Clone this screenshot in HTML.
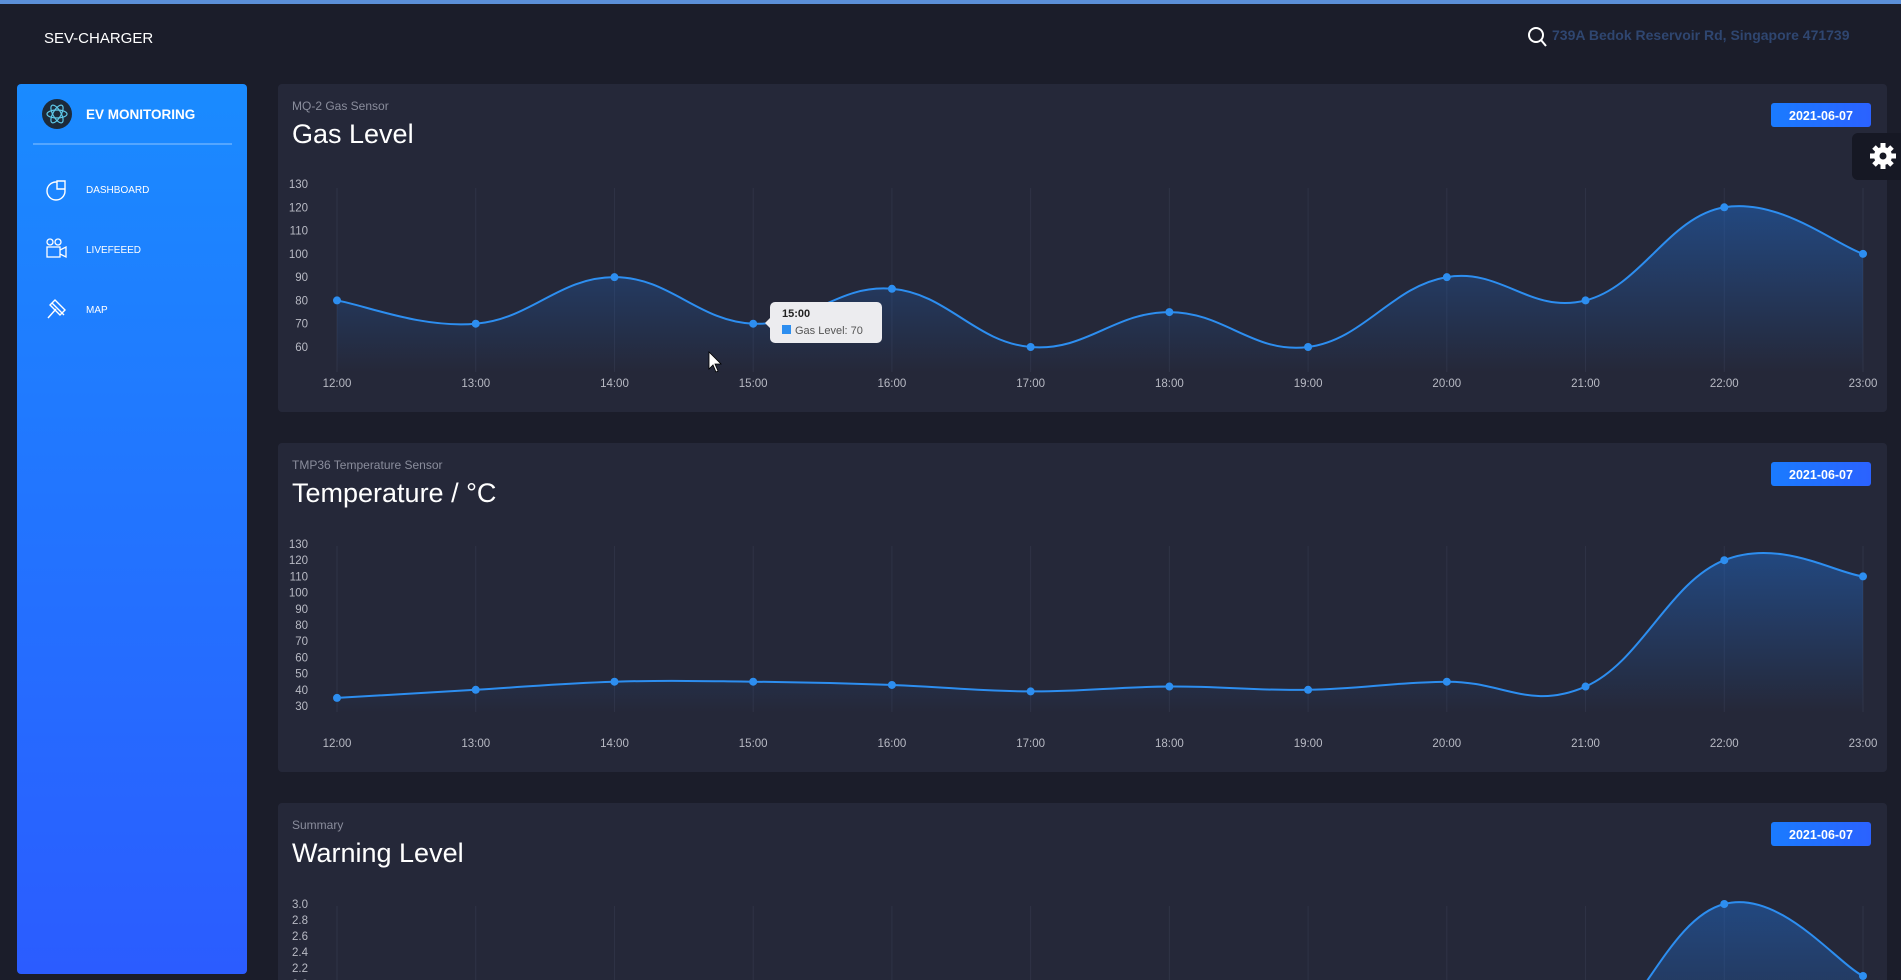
<!DOCTYPE html>
<html><head><meta charset="utf-8">
<style>
html,body{margin:0;padding:0;width:1901px;height:980px;overflow:hidden;background:#1b1d2a;font-family:"Liberation Sans",sans-serif;}
svg{display:block}
</style></head>
<body>
<svg id="page" width="1901" height="980" viewBox="0 0 1901 980" xmlns="http://www.w3.org/2000/svg" overflow="hidden">
<defs>
<linearGradient id="sideg" x1="0" y1="0" x2="0" y2="1"><stop offset="0" stop-color="#1a8bff"/><stop offset="1" stop-color="#2b5cff"/></linearGradient>
<linearGradient id="areag" x1="0" y1="0" x2="0" y2="1"><stop offset="0" stop-color="#1f6fd6" stop-opacity="0.45"/><stop offset="1" stop-color="#1f6fd6" stop-opacity="0"/></linearGradient>
<linearGradient id="btng" x1="0" y1="0" x2="1" y2="0"><stop offset="0" stop-color="#1a7bff"/><stop offset="1" stop-color="#2b62ff"/></linearGradient>
</defs>
<rect x="0" y="0" width="1901" height="4" fill="#5b8fd8"/>
<text x="44" y="43" fill="#ffffff" font-size="15">SEV-CHARGER</text>
<g><circle cx="1536" cy="35" r="7" fill="none" stroke="#fff" stroke-width="2"/><line x1="1541" y1="40" x2="1546" y2="46" stroke="#fff" stroke-width="2"/></g>
<text x="1552" y="40" fill="#2f4670" font-size="14" font-weight="bold">739A Bedok Reservoir Rd, Singapore 471739</text>

<g>
<rect x="17" y="84" width="230" height="890" rx="4" fill="url(#sideg)"/>
<circle cx="57" cy="114" r="15" fill="#1c2a3a"/>
<ellipse cx="57" cy="114" rx="10" ry="4" fill="none" stroke="#5ec8e8" stroke-width="1.2"/>
<ellipse cx="57" cy="114" rx="10" ry="4" fill="none" stroke="#5ec8e8" stroke-width="1.2" transform="rotate(60 57 114)"/>
<ellipse cx="57" cy="114" rx="10" ry="4" fill="none" stroke="#5ec8e8" stroke-width="1.2" transform="rotate(-60 57 114)"/>
<text x="86" y="119" fill="#fff" font-size="13.5" font-weight="bold">EV MONITORING</text>
<line x1="33" y1="144" x2="232" y2="144" stroke="#8cc4ff" stroke-width="1"/>
<g><circle cx="56" cy="191" r="9" fill="none" stroke="#fff" stroke-width="1.4"/><path d="M57 181 h8 v8 h-8z" fill="#1a86ff" stroke="#fff" stroke-width="1.4"/><text x="86" y="193" fill="#fff" font-size="10">DASHBOARD</text></g>
<g><circle cx="50" cy="242" r="3" fill="none" stroke="#fff" stroke-width="1.3"/><circle cx="58" cy="242" r="3" fill="none" stroke="#fff" stroke-width="1.3"/><rect x="47" y="247" width="13" height="10" fill="none" stroke="#fff" stroke-width="1.3"/><path d="M60 250 l6 -3 v10 l-6 -3" fill="none" stroke="#fff" stroke-width="1.3"/><text x="86" y="253" fill="#fff" font-size="10">LIVEFEEED</text></g>
<g><path d="M48 318 l8 -9 M52 303 l12 12 M55 300 l10 10 l-5 5 l-10 -10z" fill="none" stroke="#fff" stroke-width="1.4"/><text x="86" y="313" fill="#fff" font-size="10">MAP</text></g>
</g>

<g id="charts"></g>

<g>
<rect x="1852" y="133" width="60" height="47" rx="6" fill="#161824"/>
<g stroke="#fff" stroke-width="5"><line x1="1883" y1="143" x2="1883" y2="169"/><line x1="1870" y1="156" x2="1896" y2="156"/><line x1="1874" y1="147" x2="1892" y2="165"/><line x1="1892" y1="147" x2="1874" y2="165"/></g>
<circle cx="1883" cy="156" r="9" fill="#fff"/>
<circle cx="1883" cy="156" r="3.5" fill="#161824"/>
</g>

<g>
<rect x="770" y="302" width="112" height="41" rx="5" fill="#ececef"/>
<path d="M770 318 l-5 5 l5 5z" fill="#ececef"/>
<text x="782" y="317" fill="#222" font-size="11" font-weight="bold">15:00</text>
<rect x="782" y="325" width="9" height="9" fill="#2d8ef0"/>
<text x="795" y="334" fill="#555" font-size="11">Gas Level: 70</text>
</g>
<path d="M709 352 v17 l4 -4 l3 7 l2 -1 l-3 -7 h6z" fill="#fff" stroke="#000" stroke-width="0.8"/>
</svg>
<script>
const hours = ["12:00","13:00","14:00","15:00","16:00","17:00","18:00","19:00","20:00","21:00","22:00","23:00"];
const gasValues = [80,70,90,70,85,60,75,60,90,80,120,100];
const gasTicks = [130,120,110,100,90,80,70,60];
const tempValues = [35,40,45,45,43,39,42,40,45,42,120,110];
const tempTicks = [130,120,110,100,90,80,70,60,50,40,30];
const warnValues = [1.0,1.0,1.0,1.0,1.0,1.0,1.0,1.0,1.0,1.2,3.0,2.1];
const warnTickLabels = ["3.0","2.8","2.6","2.4","2.2","2.0","1.8"];
const warnTicks = [3.0,2.8,2.6,2.4,2.2,2.0,1.8];

const NS="http://www.w3.org/2000/svg";
const root=document.getElementById('charts');
function el(tag,attrs,parent){const e=document.createElementNS(NS,tag);for(const k in attrs)e.setAttribute(k,attrs[k]);(parent||root).appendChild(e);return e;}

function card(cy,h,sub,title,name){
  const g=el('g',{});
  
  
  el('rect',{x:278,y:cy,width:1609,height:h,rx:4,fill:'#252839'},g);
  const s=el('text',{x:292,y:cy+26,fill:'#8a8d9c','font-size':12},g);s.textContent=sub;
  
  
  const t=el('text',{x:292,y:cy+59,fill:'#fff','font-size':27},g);t.textContent=title;
  
  
  const b=el('g',{},g);
  
  
  el('rect',{x:1771,y:cy+19,width:100,height:24,rx:3,fill:'url(#btng)'},b);
  const bt=el('text',{x:1821,y:cy+36,fill:'#fff','font-size':12.5,'font-weight':'bold','text-anchor':'middle'},b);bt.textContent='2021-06-07';
}

function chart(cats,vals,ticks,labels,yMin,yMax,yTop,yBot,xLabY,gridTop,gridBot,name){
  const g=el('g',{});
  
  
  const x0=337,x1=1863;
  const xs=i=>x0+(x1-x0)*i/(cats.length-1);
  const ys=v=>yBot-(v-yMin)/(yMax-yMin)*(yBot-yTop);
  cats.forEach((c,i)=>{
    el('line',{x1:xs(i),x2:xs(i),y1:gridTop,y2:gridBot,stroke:'#2f3346','stroke-width':1},g);
    const t=el('text',{x:xs(i),y:xLabY,fill:'#b8bac4','font-size':11.5,'text-anchor':'middle'},g);t.textContent=c;
    
    
  });
  ticks.forEach((v,i)=>{
    const t=el('text',{x:308,y:ys(v)+4,fill:'#b8bac4','font-size':11.5,'text-anchor':'end'},g);t.textContent=labels?labels[i]:String(v);
    
    
  });
  const P=vals.map((v,i)=>[xs(i),ys(v)]);
  const k=0.2;let d='M'+P[0][0]+' '+P[0][1];
  for(let i=0;i<P.length-1;i++){
    const p0=P[Math.max(i-1,0)],p1=P[i],p2=P[i+1],p3=P[Math.min(i+2,P.length-1)];
    const c1=[p1[0]+(p2[0]-p0[0])*k,p1[1]+(p2[1]-p0[1])*k];
    const c2=[p2[0]-(p3[0]-p1[0])*k,p2[1]-(p3[1]-p1[1])*k];
    d+=` C${c1[0]} ${c1[1]} ${c2[0]} ${c2[1]} ${p2[0]} ${p2[1]}`;
  }
  const area=el('path',{d:d+` L${x1} ${gridBot} L${x0} ${gridBot}Z`,fill:'url(#areag)'},g);
  
  
  const line=el('path',{d:d,fill:'none',stroke:'#2d8ef0','stroke-width':2},g);
  
  
  P.forEach(p=>{
    const c=el('circle',{cx:p[0],cy:p[1],r:4,fill:'#2d8ef0'},g);
    
    
  });
}

card(84,328,'MQ-2 Gas Sensor','Gas Level','gas-level-card');
chart(hours,gasValues,gasTicks,null,60,130,184,347,387,188,372,'gas-level-chart');
card(443,329,'TMP36 Temperature Sensor','Temperature / \u00B0C','temperature-card');
chart(hours,tempValues,tempTicks,null,30,130,544,706,747,546,712,'temperature-chart');
card(803,200,'Summary','Warning Level','warning-level-card');
chart(hours,warnValues,warnTicks,warnTickLabels,1.8,3.0,904,1000,1100,906,1100,'warning-level-chart');
</script>
</body></html>
